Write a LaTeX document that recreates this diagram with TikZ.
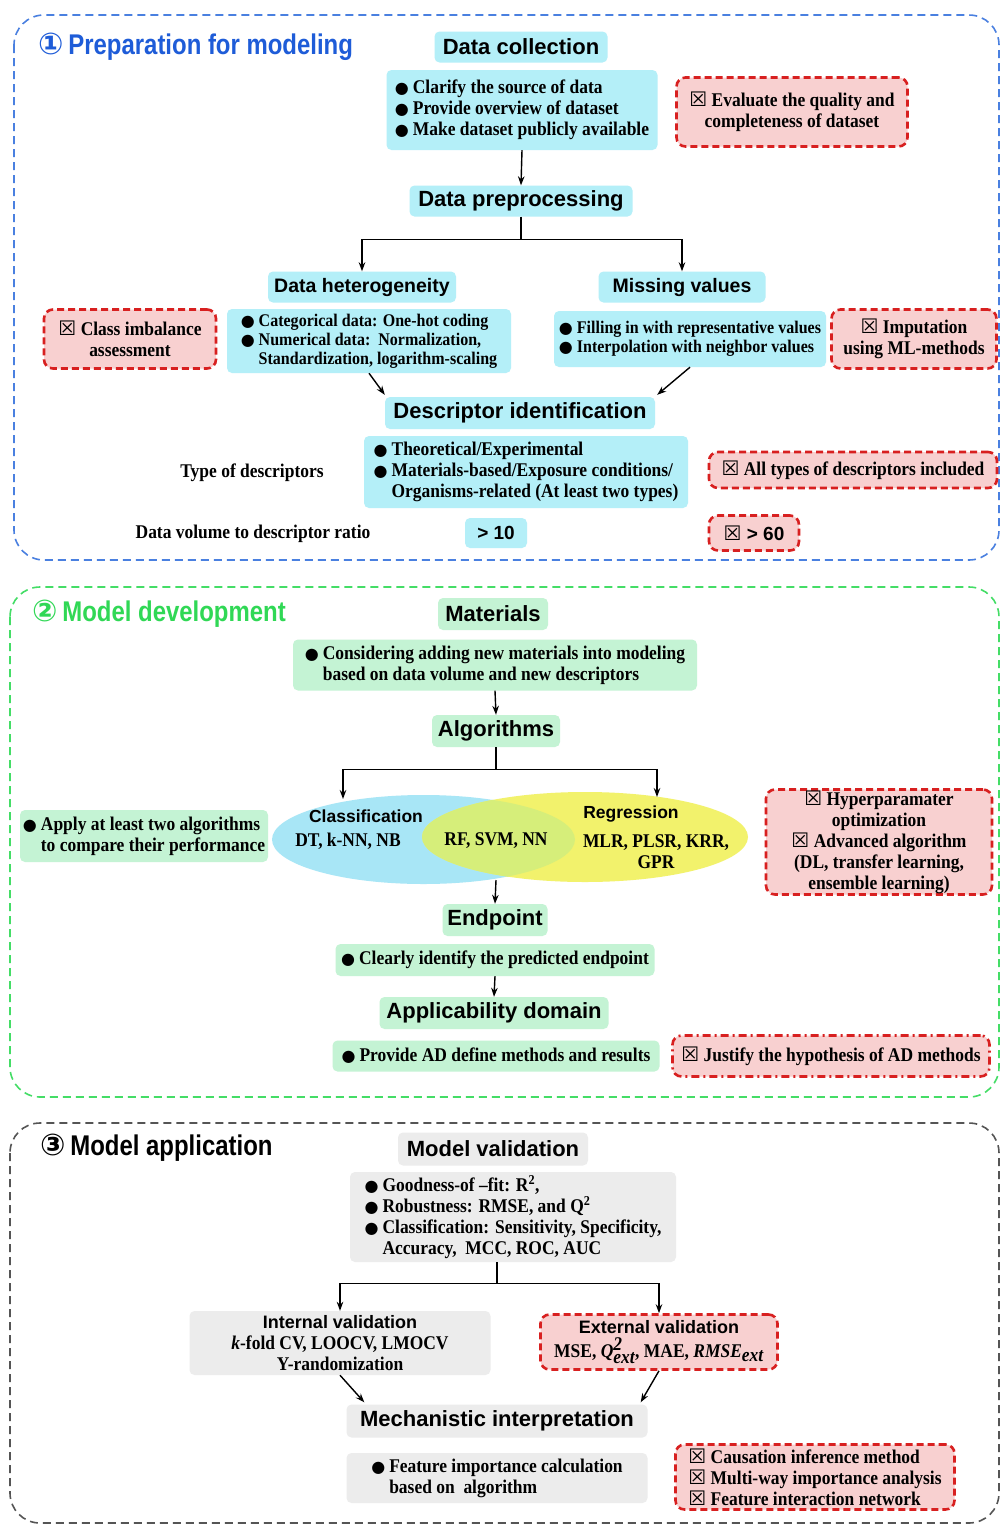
\documentclass[tikz,border=0pt]{standalone}
\usepackage{fontspec}
\setmainfont{Liberation Serif}[FakeStretch=0.9]
\setsansfont{Liberation Sans}
\newfontfamily\sansn{Liberation Sans}[FakeStretch=0.84]
\newfontfamily\symf{DejaVu Sans}
\usetikzlibrary{arrows.meta,calc,shapes.geometric}
\definecolor{cyanf}{HTML}{B4EFF8}
\definecolor{greenf}{HTML}{C4F3D4}
\definecolor{grayf}{HTML}{ECECEC}
\definecolor{pinkf}{HTML}{F8D0D0}
\definecolor{redd}{HTML}{D82020}
\definecolor{bluefr}{HTML}{4A80E0}
\definecolor{greenfr}{HTML}{44DD66}
\definecolor{grayfr}{HTML}{555555}
\definecolor{bluet}{HTML}{1E5CD8}
\definecolor{greent}{HTML}{30D855}
\definecolor{ellc}{HTML}{A8E6F6}
\definecolor{elly}{HTML}{F2F26C}
\definecolor{ellg}{HTML}{D6EE7A}
\newcommand\bl{{\symf\fontsize{16}{16}\selectfont ●}\hspace{4pt}}
\newcommand\xb{{\symf\fontsize{20}{20}\selectfont ☒}}
\newcommand\fa{\bfseries\fontsize{19.4}{21}\selectfont}
\newcommand\fb{\bfseries\fontsize{17.8}{19}\selectfont}
\newcommand\ft{\sffamily\bfseries\fontsize{22}{26}\selectfont}
\newcommand\ftn{\sffamily\bfseries\fontsize{19.5}{26}\selectfont}
\newcommand\fs{\sffamily\bfseries\fontsize{18}{22}\selectfont}
\newcommand\fh{\sansn\bfseries\fontsize{28.5}{30}\selectfont}
\newcommand\circd[1]{{\symf\bfseries\fontsize{30}{30}\selectfont #1}}
\begin{document}
\begin{tikzpicture}[x=1pt,y=-1pt,
  base/.style={rounded corners=5pt, inner sep=0pt, text=black},
  cyanbox/.style={base, fill=cyanf},
  greenbox/.style={base, fill=greenf},
  graybox/.style={base, fill=grayf},
  redbox/.style={base, fill=pinkf, draw=redd, line width=2.6pt, dash pattern=on 7pt off 4pt, rounded corners=9pt},
  reddd/.style={base, fill=pinkf, draw=redd, line width=2.6pt, dash pattern=on 8pt off 4pt on 2pt off 4pt, rounded corners=9pt},
  frame/.style={line width=1.6pt, dash pattern=on 8pt off 5pt, rounded corners=30pt},
  plain/.style={inner sep=0pt, text=black},
  arr/.style={-{Stealth[length=9pt,width=6.5pt]}, line width=1.4pt},
  ln/.style={line width=1.8pt},
  ttl/.style={font=\ft},
  ttn/.style={font=\ftn},
  bt/.style={font=\fa, align=left},
  bts/.style={font=\fb, align=left},
  rt/.style={font=\fa, align=center}]
\useasboundingbox (0,0) rectangle (1000,1526);
\fill[white] (0,0) rectangle (1000,1526);

% ---------- frames
\draw[frame, draw=bluefr] (14,15) rectangle (999,560);
\draw[frame, draw=greenfr] (10,587) rectangle (999,1097);
\draw[frame, draw=grayfr] (10,1123) rectangle (999,1523);

% ---------- section 1
\node[plain, anchor=west, font=\fh, text=bluet] (t1) at (38,47) {\circd{①}\,Preparation for modeling};
\node[cyanbox, ttl, minimum width=173pt, minimum height=31pt] (dc) at (521,47) {Data collection};
\node[cyanbox, bt, minimum width=271pt, minimum height=80pt] (dcb) at (522,110)
  {\bl Clarify the source of data\\ \bl Provide overview of dataset\\ \bl Make dataset publicly available};
\node[redbox, rt, minimum width=231pt, minimum height=69pt] (dcr) at (792,112)
  {\xb\ Evaluate the quality and\\ completeness of dataset};
\node[cyanbox, ttl, minimum width=223pt, minimum height=31pt] (dp) at (521,201) {Data preprocessing};
\node[cyanbox, ttn, minimum width=188pt, minimum height=31pt] (dh) at (362,287) {Data heterogeneity};
\node[cyanbox, ttn, minimum width=167pt, minimum height=31pt] (mv) at (682,287) {Missing values};
\node[redbox, rt, minimum width=172pt, minimum height=59pt] (ci) at (130,339)
  {\xb\ Class imbalance\\ assessment};
\node[cyanbox, bts, minimum width=284pt, minimum height=64pt] (dhb) at (369,341)
  {\bl Categorical data: One-hot coding\\ \bl Numerical data:\ \ Normalization,\\ \hphantom{\bl}Standardization, logarithm-scaling};
\node[cyanbox, bts, minimum width=272pt, minimum height=56pt] (mvb) at (690,339)
  {\bl Filling in with representative values\\ \bl Interpolation with neighbor values};
\node[redbox, rt, minimum width=165pt, minimum height=59pt] (im) at (914,339)
  {\xb\ Imputation\\ using ML-methods};
\node[cyanbox, ttl, minimum width=270pt, minimum height=32pt] (desc) at (520,413) {Descriptor identification};
\node[plain, font=\fa] (tod) at (252,473) {Type of descriptors};
\node[cyanbox, bt, minimum width=324pt, minimum height=72pt] (descb) at (526,472)
  {\bl Theoretical/Experimental\\ \bl Materials-based/Exposure conditions/\\ \hphantom{\bl}Organisms-related (At least two types)};
\node[redbox, rt, minimum width=288pt, minimum height=36pt] (allt) at (853,470)
  {\xb\ All types of descriptors included};
\node[plain, font=\fa] (dvr) at (253,534) {Data volume to descriptor ratio};
\node[cyanbox, font=\sffamily\bfseries\fontsize{19}{22}\selectfont, minimum width=62pt, minimum height=30pt] (r10) at (496,533) {> 10};
\node[redbox, font=\sffamily\bfseries\fontsize{19}{22}\selectfont, minimum width=90pt, minimum height=35pt] (r60) at (754,533) {\xb\ > 60};

\draw[arr] (dcb.south) -- (dp.north);
\draw[ln] (dp.south) -- ++(0,23) coordinate (j1);
\draw[arr] (j1) -| (dh.north);
\draw[arr] (j1) -| (mv.north);
\draw[arr] (dhb.south) -- ($(desc.north west)+(0,-2)$);
\draw[arr] (mvb.south) -- ($(desc.north east)+(2,-2)$);

% ---------- section 2
\node[plain, anchor=west, font=\fh, text=greent] (t2) at (32,614) {\circd{②}\,Model development};
\node[greenbox, ttl, minimum width=110pt, minimum height=32pt] (mat) at (493,614) {Materials};
\node[greenbox, bt, minimum width=404pt, minimum height=51pt] (matb) at (495,665)
  {\bl Considering adding new materials into modeling\\ \hphantom{\bl}based on data volume and new descriptors};
\node[greenbox, ttl, minimum width=128pt, minimum height=32pt] (alg) at (496,731) {Algorithms};
\node[ellipse, fill=ellc, inner sep=0pt, minimum width=303pt, minimum height=89pt] (cls) at (423.5,839.5) {};
\node[ellipse, fill=elly, inner sep=0pt, minimum width=326pt, minimum height=90pt] (reg) at (585,837) {};
\begin{scope}
\clip (423.5,839.5) ellipse [x radius=151.5pt, y radius=44.5pt];
\fill[ellg] (585,837) ellipse [x radius=163pt, y radius=45pt];
\end{scope}
\node[plain, font=\sffamily\bfseries\fontsize{17.5}{21}\selectfont] (clsT) at (366,816) {Classification};
\node[plain, font=\fa] (clsA) at (348,841) {DT, k-NN, NB};
\node[plain, font=\fa] (both) at (496,841) {RF, SVM, NN};
\node[plain, font=\sffamily\bfseries\fontsize{17.5}{21}\selectfont] (regT) at (631,814) {Regression};
\node[plain, font=\fa, align=center] (regA) at (656,852) {MLR, PLSR, KRR,\\GPR};
\node[greenbox, bt, minimum width=248pt, minimum height=52pt] (app) at (144,836)
  {\bl Apply at least two algorithms\\ \hphantom{\bl}to compare their performance};
\node[redbox, rt, minimum width=226pt, minimum height=105pt] (hyp) at (879,842)
  {\xb\ Hyperparamater\\ optimization\\ \xb\ Advanced algorithm\\ (DL, transfer learning,\\ ensemble learning)};
\node[greenbox, ttl, minimum width=105pt, minimum height=32pt] (ep) at (495,920) {Endpoint};
\node[greenbox, bt, minimum width=319pt, minimum height=32pt] (epb) at (495,960)
  {\bl Clearly identify the predicted endpoint};
\node[greenbox, ttl, minimum width=229pt, minimum height=32pt] (ad) at (494,1013) {Applicability domain};
\node[greenbox, bt, minimum width=327pt, minimum height=31pt] (adb) at (496,1056)
  {\bl Provide AD define methods and results};
\node[reddd, rt, minimum width=317pt, minimum height=41pt] (adr) at (831,1056)
  {\xb\ Justify the hypothesis of AD methods};

\draw[arr] (matb.south) -- (alg.north);
\draw[ln] (alg.south) -- ++(0,22) coordinate (j2);
\coordinate (c1) at (343,799);
\coordinate (c2) at (657,797);
\draw[arr] (j2) -| (c1);
\draw[arr] (j2) -| (c2);
\coordinate (c3) at (496,880);
\draw[arr] (c3) -- (ep.north);
\draw[arr] (epb.south) -- (ad.north);

% ---------- section 3
\node[plain, anchor=west, font=\fh, text=black] (t3) at (40,1148) {\circd{③}\,Model application};
\node[graybox, ttl, minimum width=190pt, minimum height=33pt] (mvd) at (493,1149) {Model validation};
\node[graybox, bt, minimum width=326pt, minimum height=90pt] (mvdb) at (513,1217)
  {\bl Goodness-of –fit: R\textsuperscript{2},\\ \bl Robustness: RMSE, and Q\textsuperscript{2}\\ \bl Classification: Sensitivity, Specificity,\\ \hphantom{\bl}Accuracy,\ \ MCC, ROC, AUC};
\node[graybox, rt, minimum width=301pt, minimum height=64pt] (iv) at (340,1343)
  {{\fs Internal validation}\\ \textit{k}-fold CV, LOOCV, LMOCV\\ Y-randomization};
\node[redbox, rt, minimum width=237pt, minimum height=55pt] (ev) at (659,1342)
  {{\fs External validation}\\[3pt] MSE, $\textit{Q}^{\textit{2}}_{\textit{ext}}$, MAE, $\textit{RMSE}_{\textit{ext}}$};
\node[graybox, ttl, minimum width=301pt, minimum height=33pt] (mi) at (497,1421) {Mechanistic interpretation};
\node[graybox, bt, minimum width=301pt, minimum height=50pt] (mib) at (497,1478)
  {\bl Feature importance calculation\\ \hphantom{\bl}based on\ \ algorithm};
\node[redbox, bt, minimum width=279pt, minimum height=65pt] (mir) at (815,1477)
  {\xb\ Causation inference method\\ \xb\ Multi-way importance analysis\\ \xb\ Feature interaction network};

\draw[ln] ($(mvdb.south west)!0.45!(mvdb.south east)$) -- ++(0,21) coordinate (j3);
\draw[arr] (j3) -| (iv.north);
\draw[arr] (j3) -| (ev.north);
\draw[arr] (iv.south) -- ($(mi.north west)+(18,-2)$);
\draw[arr] (ev.south) -- ($(mi.north east)+(-7,-2)$);
\end{tikzpicture}
\end{document}
